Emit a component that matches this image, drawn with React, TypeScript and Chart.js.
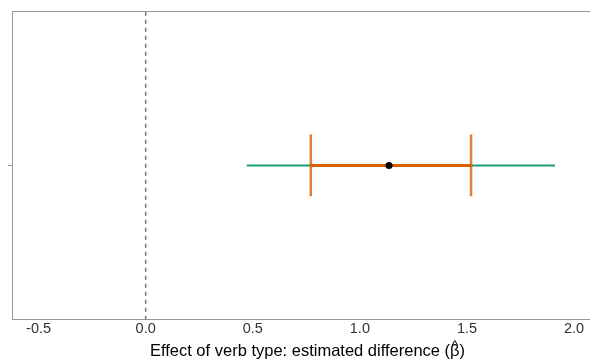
import React, { useEffect, useRef } from "react";
import { Chart, registerables } from "chart.js";

Chart.register(...registerables);

const xTicks = [-0.5, 0, 0.5, 1.0, 1.5, 2.0];
const xRange = [-0.624, 2.135];
const estimate = 1.136;
const ciOuter = [0.472, 1.911];
const ciInner = [0.771, 1.519];
const refLine = 0;
const rowY = 1;
const capHalf = 0.2;
const titlePrefix = "Effect of verb type: estimated difference (";
const titleSymbol = "\u03B2";
const titleSuffix = ")";
const axisTitle = titlePrefix + titleSymbol + titleSuffix;
const FONT = "Liberation Sans, Arial, sans-serif";
const TITLE_SIZE = 16.5;
const CANVAS_W = 607;

const frame = {
  id: "frame",
  afterDraw(chart: any) {
    const { ctx, chartArea } = chart;
    ctx.save();
    ctx.strokeStyle = "#999999";
    ctx.lineWidth = 1;
    ctx.beginPath();
    ctx.moveTo(chartArea.left, chartArea.top + 0.5);
    ctx.lineTo(chartArea.right, chartArea.top + 0.5);
    ctx.stroke();
    // hat over beta in the axis title
    const sx = chart.scales.x;
    ctx.font = `${TITLE_SIZE}px ${FONT}`;
    const full = ctx.measureText(axisTitle).width;
    const cx = (sx.left + sx.right) / 2;
    const start = cx - full / 2;
    const bx = start + ctx.measureText(titlePrefix).width + ctx.measureText(titleSymbol).width / 2;
    const ty = sx.bottom - (TITLE_SIZE * 1.2) / 2;
    ctx.fillStyle = "#000";
    ctx.textAlign = "center";
    ctx.textBaseline = "alphabetic";
    ctx.font = `${TITLE_SIZE * 0.8}px ${FONT}`;
    ctx.fillText("^", bx, ty - 2);
    ctx.restore();
  },
};

export default function App() {
  const ref = useRef<HTMLCanvasElement>(null);
  useEffect(() => {
    const orange = "#d95f02";
    const chart = new Chart(ref.current!, {
      type: "scatter",
      data: {
        datasets: [
          {
            data: [{ x: estimate, y: rowY }],
            backgroundColor: "#000000",
            borderColor: "#000000",
            pointRadius: 3.5,
            pointBorderWidth: 0,
            order: 0,
          },
          {
            data: [{ x: ciInner[0], y: rowY - capHalf }, { x: ciInner[0], y: rowY + capHalf }],
            showLine: true,
            borderColor: "rgba(217,95,2,0.8)",
            borderWidth: 2.5,
            pointRadius: 0,
            order: 1,
          },
          {
            data: [{ x: ciInner[1], y: rowY - capHalf }, { x: ciInner[1], y: rowY + capHalf }],
            showLine: true,
            borderColor: "rgba(217,95,2,0.8)",
            borderWidth: 2.5,
            pointRadius: 0,
            order: 1,
          },
          {
            data: [{ x: ciInner[0], y: rowY }, { x: ciInner[1], y: rowY }],
            showLine: true,
            borderColor: orange,
            borderWidth: 3,
            pointRadius: 0,
            order: 2,
          },
          {
            data: [{ x: ciOuter[0], y: rowY }, { x: ciOuter[1], y: rowY }],
            showLine: true,
            borderColor: "#1b9e77",
            borderWidth: 2,
            pointRadius: 0,
            order: 3,
          },
          {
            data: [{ x: refLine, y: 0 }, { x: refLine, y: 2 }],
            showLine: true,
            borderColor: "#777777",
            borderWidth: 1.5,
            borderDash: [4, 4],
            pointRadius: 0,
            order: 4,
          },
        ],
      },
      options: {
        animation: false,
        responsive: false,
        maintainAspectRatio: false,
        layout: { padding: { left: 8, top: 11, right: 0, bottom: 2 } },
        plugins: { legend: { display: false }, tooltip: { enabled: false } },
        scales: {
          x: {
            type: "linear",
            min: xRange[0],
            max: xRange[1],
            afterBuildTicks: (s: any) => {
              s.ticks = xTicks.map((v) => ({ value: v }));
            },
            grid: { display: false, drawTicks: false },
            border: { display: true, color: "#999999", width: 1 },
            ticks: {
              padding: 0,
              color: "#333333",
              font: { family: FONT, size: 14.5 },
              callback: (v: any) => Number(v).toFixed(1),
            },
            title: {
              display: true,
              text: axisTitle,
              color: "#000000",
              font: { family: FONT, size: TITLE_SIZE },
              padding: { top: 4, bottom: 0 },
            },
          },
          y: {
            type: "linear",
            min: 0,
            max: 2,
            afterBuildTicks: (s: any) => {
              s.ticks = [{ value: rowY }];
            },
            grid: { display: true, drawOnChartArea: false, drawTicks: true, tickLength: 4, color: "#999999" },
            border: { display: true, color: "#999999", width: 1 },
            ticks: { display: false },
          },
        },
      },
      plugins: [frame],
    });
    return () => chart.destroy();
  }, []);
  return (
    <div style={{ position: "fixed", left: 0, top: 0, width: 590, height: 363, overflow: "hidden", background: "#fff" }}>
      <canvas ref={ref} width={CANVAS_W} height={363} style={{ width: CANVAS_W, height: 363 }} />
    </div>
  );
}
